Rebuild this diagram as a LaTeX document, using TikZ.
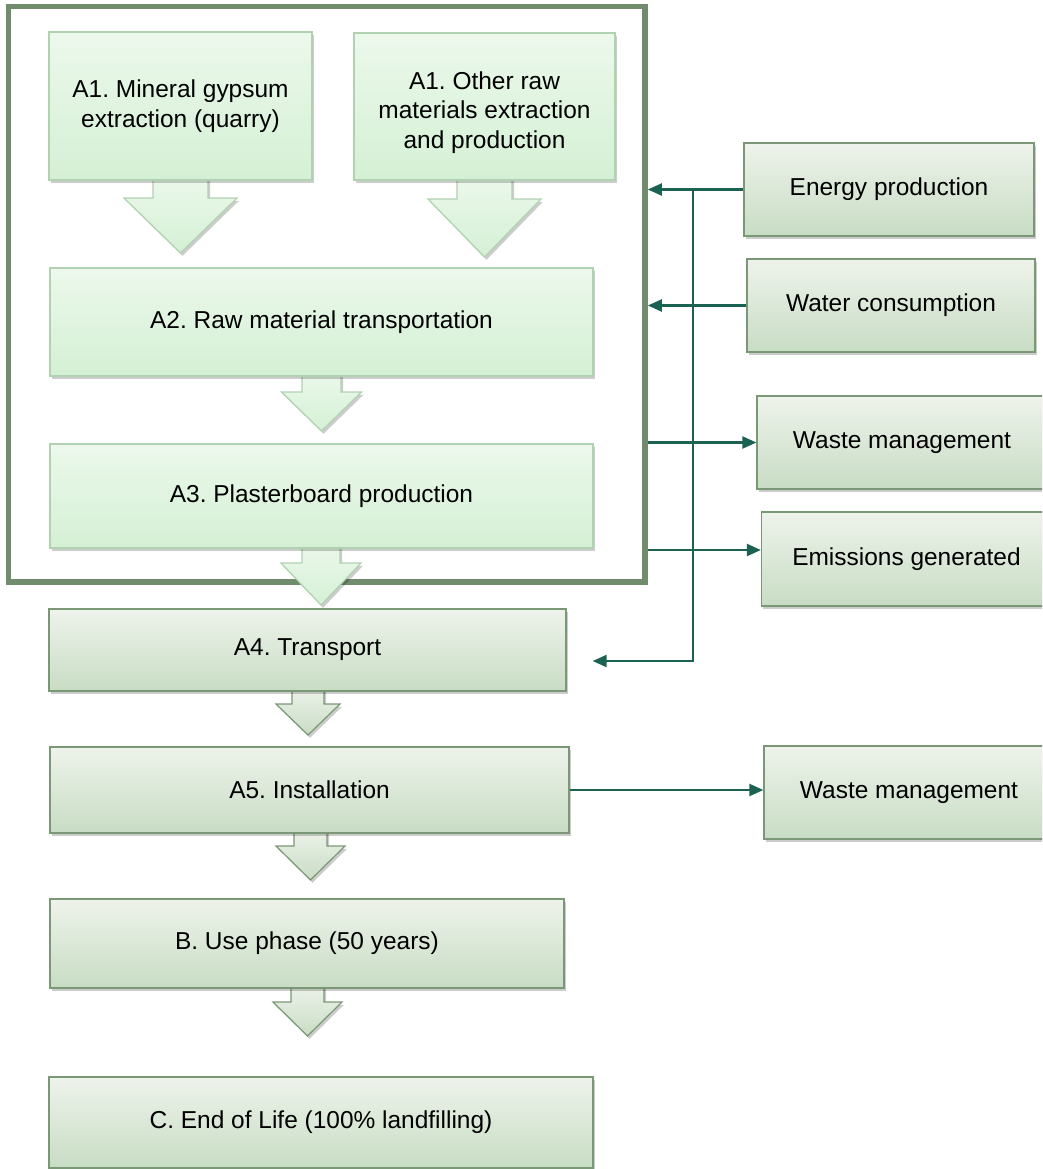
\documentclass[tikz,border=0pt]{standalone}
\usepackage{fontspec}
\setmainfont{Liberation Sans}
\usetikzlibrary{positioning,arrows.meta,shadows}
\definecolor{mintTop}{RGB}{236,248,236}
\definecolor{mintBot}{RGB}{212,240,212}
\definecolor{mintLine}{RGB}{176,210,176}
\definecolor{sageTop}{RGB}{238,243,235}
\definecolor{sageBot}{RGB}{200,220,196}
\definecolor{sageLine}{RGB}{122,152,118}
\definecolor{frameGreen}{RGB}{112,140,108}
\definecolor{linkTeal}{RGB}{28,98,82}
\frenchspacing

\begin{document}
\begin{tikzpicture}[
    x=0.025cm, y=-0.025cm,
    every node/.style={font=\fontsize{17.4}{21}\selectfont},
    shade/.style={drop shadow={shadow xshift=0.05cm, shadow yshift=-0.07cm, opacity=0.2, fill=black}},
    mintbox/.style={
        rectangle, draw=mintLine, line width=0.03cm,
        top color=mintTop, bottom color=mintBot,
        align=center, inner sep=0pt, shade
    },
    sagebox/.style={
        rectangle, draw=sageLine, line width=0.03cm,
        top color=sageTop, bottom color=sageBot,
        align=center, inner sep=0pt, shade
    },
    mintarrow/.style={draw=mintLine, line width=0.03cm, top color=mintTop, bottom color=mintBot, shade},
    sagearrow/.style={draw=sageLine, line width=0.03cm, top color=sageTop, bottom color=sageBot, shade},
    sysframe/.style={rectangle, draw=frameGreen, line width=0.1375cm, inner sep=0pt},
    link/.style={-{Triangle[length=0.35cm,width=0.3cm]}, line width=0.055cm, linkTeal}
]
\clip (0,0) rectangle (1042,1169);

% system boundary
\node[sysframe, minimum width=15.9125cm, minimum height=14.3875cm] (sys) at (326.75,294.25) {};

% block arrows
\foreach \cx/\yt/\yh/\yb/\sw/\hw in {180.5/176/198/253/27.5/56.5, 484.5/176/199/257/27.5/56.5,
                                      321.5/372/392/431/19.5/40, 321/544/563/605/19/40}
  \path[mintarrow] (\cx-\sw,\yt) -- (\cx+\sw,\yt) -- (\cx+\sw,\yh) -- (\cx+\hw,\yh)
        -- (\cx,\yb) -- (\cx-\hw,\yh) -- (\cx-\sw,\yh) -- cycle;
\foreach \cx/\yt/\yh/\yb/\sw/\hw in {308/687/704/735/16/32, 310.5/829/846/880/16.5/34.5,
                                      307.5/984/1002/1036/16.5/34.5}
  \path[sagearrow] (\cx-\sw,\yt) -- (\cx+\sw,\yt) -- (\cx+\sw,\yh) -- (\cx+\hw,\yh)
        -- (\cx,\yb) -- (\cx-\hw,\yh) -- (\cx-\sw,\yh) -- cycle;

% stages
\node[mintbox, minimum width=6.575cm, minimum height=3.7cm] (a1gyp) at (180.5,106) {A1. Mineral gypsum\\extraction (quarry)};
\node[mintbox, minimum width=6.525cm, minimum height=3.675cm] (a1oth) at (484.5,106.5) {\rule{0pt}{0.75cm}A1. Other raw\\materials extraction\\and production};
\node[mintbox, minimum width=13.575cm, minimum height=2.7cm] (a2) at (321.5,322) {A2. Raw material transportation};
\node[mintbox, minimum width=13.575cm, minimum height=2.6cm] (a3) at (321.5,496) {A3. Plasterboard production};
\node[sagebox, minimum width=12.925cm, minimum height=2.05cm] (a4) at (307.5,650) {A4. Transport};
\node[sagebox, minimum width=12.975cm, minimum height=2.15cm] (a5) at (309.5,790) {A5. Installation};
\node[sagebox, minimum width=12.85cm, minimum height=2.225cm] (use) at (307,943.5) {B. Use phase (50 years)};
\node[sagebox, minimum width=13.6cm, minimum height=2.275cm] (eol) at (321,1122.5) {C. End of Life (100\% landfilling)};

% flows in and out
\node[sagebox, minimum width=7.25cm, minimum height=2.325cm] (energy) at (889,189.5) {Energy production};
\node[sagebox, minimum width=7.2cm, minimum height=2.325cm] (water) at (891,305.5) {Water consumption};
\node[sagebox, minimum width=7.25cm, minimum height=2.325cm] (waste) at (902,442.5) {Waste management};
\node[sagebox, minimum width=7.25cm, minimum height=2.35cm] (emis) at (906.5,559) {Emissions generated};
\node[sagebox, minimum width=7.25cm, minimum height=2.325cm] (wasteb) at (909,792.5) {Waste management};

\coordinate (tap) at (693,190);
\coordinate (a4in) at ([xshift=0.65cm,yshift=-0.275cm]a4.east);

\draw[link] (energy.west) -- (energy.west -| sys.east);
\draw[link] (water.west) -- (water.west -| sys.east);
\draw[link] (sys.east |- waste.west) -- (waste.west);
\draw[link] ([yshift=0.225cm]emis.west -| sys.east) -- ([yshift=0.225cm]emis.west);
\draw[link] (tap) |- (a4in);
\draw[link] (a5.east) -- (a5.east -| wasteb.west);

\end{tikzpicture}
\end{document}
